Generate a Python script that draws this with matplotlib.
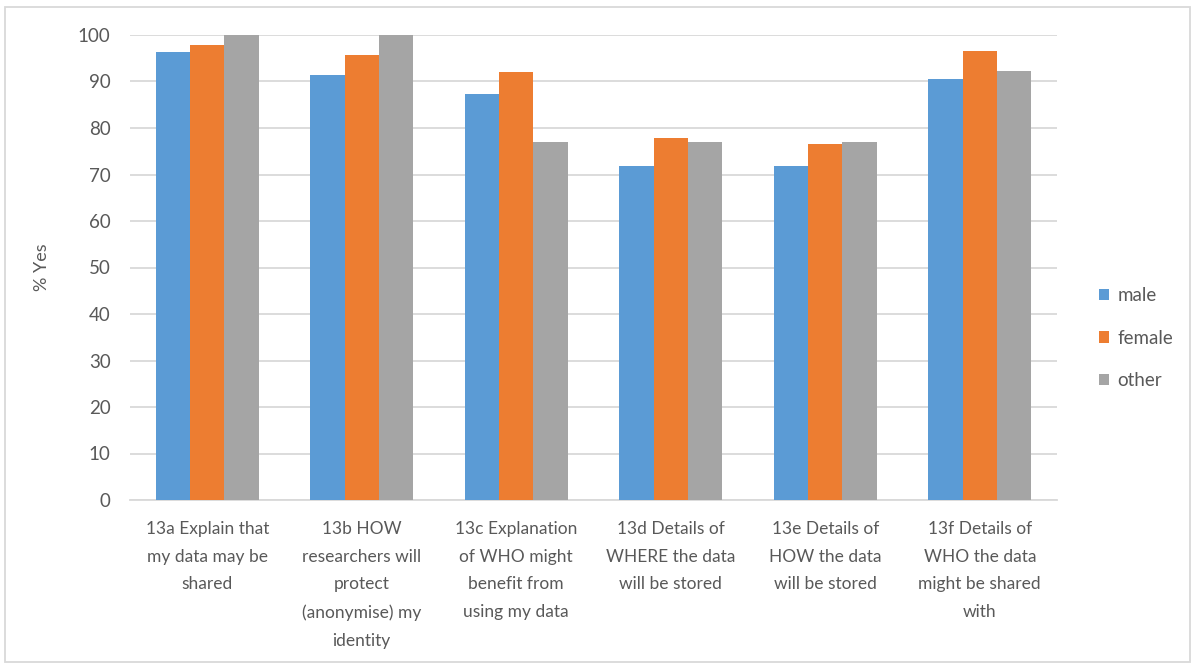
import numpy as np
import matplotlib
matplotlib.use('Agg')
import matplotlib.pyplot as plt
from matplotlib.patches import Rectangle

# Datos
categories = [
    "13a Explain that\nmy data may be\nshared",
    "13b HOW\nresearchers will\nprotect\n(anonymise) my\nidentity",
    "13c Explanation\nof WHO might\nbenefit from\nusing my data",
    "13d Details of\nWHERE the data\nwill be stored",
    "13e Details of\nHOW the data\nwill be stored",
    "13f Details of\nWHO the data\nmight be shared\nwith",
]
male = [96.3, 91.4, 87.4, 71.9, 71.9, 90.5]
female = [97.9, 95.6, 92.1, 77.9, 76.6, 96.5]
other = [100.0, 100.0, 76.9, 76.9, 76.9, 92.3]
series_names = ["male", "female", "other"]
yticks = [0, 10, 20, 30, 40, 50, 60, 70, 80, 90, 100]

colors = ["#5B9BD5", "#ED7D31", "#A5A5A5"]
text_color = "#595959"
grid_color = "#D9D9D9"

plt.rcParams['font.family'] = ['Lato', 'DejaVu Sans']

fig = plt.figure(figsize=(11.95, 6.66), dpi=100)
ax = fig.add_axes([130 / 1195, 1 - 500 / 666, 927 / 1195, 465 / 666])

x = np.arange(len(categories))
w = 1 / 4.5
for i, (vals, name) in enumerate(zip([male, female, other], series_names)):
    ax.bar(x + (i - 1) * w, vals, width=w, color=colors[i], label=name, zorder=3)

ax.set_xlim(-0.5, len(categories) - 0.5)
ax.set_ylim(0, 100)
ax.set_yticks(yticks)
ax.set_xticks(x)
ax.set_xticklabels(categories, linespacing=1.9, fontsize=12.5)
ax.tick_params(axis='both', length=0, labelcolor=text_color)
ax.tick_params(axis='y', pad=14, labelsize=13.5)
ax.tick_params(axis='x', pad=15)
ax.yaxis.grid(True, color=grid_color, linewidth=1.3, zorder=0)
for s in ['top', 'right', 'left']:
    ax.spines[s].set_visible(False)
ax.spines['bottom'].set_color(grid_color)
ax.spines['bottom'].set_linewidth(1.3)
ax.set_ylabel("% Yes", fontsize=13, color=text_color, labelpad=20)

leg = fig.legend(loc='center left', bbox_to_anchor=(1082 / 1195, 1 - 338 / 666),
                 frameon=False, fontsize=13.5, handlelength=0.55, handleheight=0.55,
                 handletextpad=0.45, labelspacing=1.35)
for t in leg.get_texts():
    t.set_color(text_color)

# Borde del área del gráfico
fig.patches.append(Rectangle((5 / 1195, 4 / 666), 1185 / 1195, 655 / 666,
                             transform=fig.transFigure, fill=False,
                             edgecolor=grid_color, linewidth=1.3))

plt.savefig("out.png", dpi=100)
